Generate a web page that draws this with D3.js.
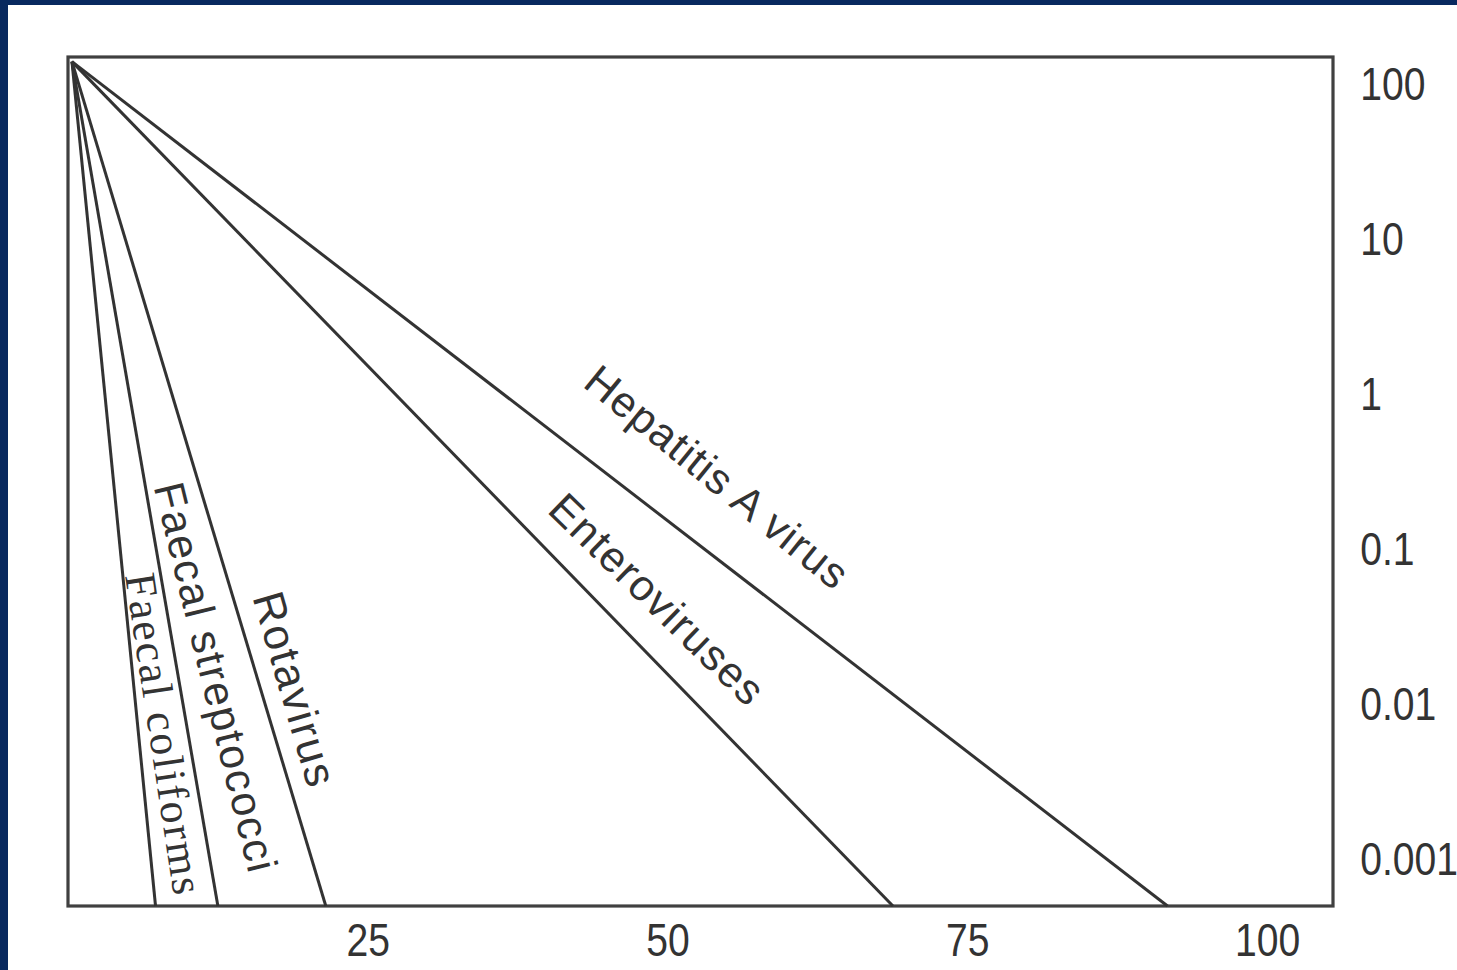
<!DOCTYPE html>
<html>
<head>
<meta charset="utf-8">
<script src="https://cdn.jsdelivr.net/npm/d3@7"></script>
<style>
  html, body { margin: 0; padding: 0; background: #ffffff; }
  svg { display: block; }
</style>
</head>
<body>
<svg id="chart" width="1457" height="970"></svg>
<script>
// ---- data ----
const organisms = ["Faecal coliforms", "Faecal streptococci", "Rotavirus", "Enteroviruses", "Hepatitis A virus"];
const startDay = 0.33;          // all curves start together at the top-left corner
const startLevel = 140;
const endDays = [7.3, 12.5, 21.5, 68.8, 91.7];   // day at which each line reaches the bottom of the frame
const endLevel = 0.0005;
const xTickValues = [25, 50, 75, 100];
const yTickValues = [100, 10, 1, 0.1, 0.01, 0.001];

(function () {
// ---- layout ----
const W = 1457, H = 970;
const mLeft = 68, mRight = 1333, mTop = 57, mBottom = 906;

const svg = d3.select("#chart");

// navy frame bands of the slide
svg.append("rect").attr("x", 0).attr("y", 0).attr("width", W).attr("height", H).attr("fill", "#ffffff");
svg.append("rect").attr("x", 0).attr("y", 0).attr("width", W).attr("height", 5).attr("fill", "#08295f");
svg.append("rect").attr("x", 0).attr("y", 0).attr("width", 8).attr("height", H).attr("fill", "#08295f");

const x = d3.scaleLinear().domain([0, 105.5]).range([mLeft, mRight]);
const y = d3.scaleLog().domain([150, 0.0005]).range([mTop, mBottom]);

// frame
svg.append("rect")
  .attr("x", x(0)).attr("y", y(150))
  .attr("width", x(105.5) - x(0)).attr("height", y(0.0005) - y(150))
  .attr("fill", "none").attr("stroke", "#404040").attr("stroke-width", 3.2);

// axes
const axisFont = "'Liberation Sans', Arial, Helvetica, sans-serif";
const yAxis = d3.axisRight(y).tickValues(yTickValues).tickSize(0).tickPadding(32).tickFormat(d3.format("~g"));
const gy = svg.append("g").attr("transform", `translate(${mRight},0)`).call(yAxis);
gy.select(".domain").remove();
gy.selectAll("text")
  .attr("font-family", axisFont).attr("font-size", 46).attr("fill", "#333333")
  .attr("transform", "scale(0.85,1)");

const xAxis = d3.axisBottom(x).tickValues(xTickValues).tickSize(0).tickPadding(17).tickFormat(d3.format("d"));
const gx = svg.append("g").attr("transform", `translate(0,${mBottom})`).call(xAxis);
gx.select(".domain").remove();
gx.selectAll("text")
  .attr("font-family", axisFont).attr("font-size", 46).attr("fill", "#333333")
  .attr("transform", "scale(0.85,1)");

// lines
const series = organisms.map((name, i) => ({
  name,
  points: [{ day: startDay, level: startLevel }, { day: endDays[i], level: endLevel }]
}));

const line = d3.line().x(d => x(d.day)).y(d => y(d.level));

svg.append("g").selectAll("path").data(series).join("path")
  .attr("d", d => line(d.points))
  .attr("fill", "none").attr("stroke", "#333333").attr("stroke-width", 3);

// labels placed along each line: t = fraction along line, off = perpendicular offset, rot = extra tilt
const labelPlace = [
  { t: 0.80, off: 26, rot: -3, font: "'Liberation Serif', 'Times New Roman', serif", spacing: 2, size: 44 },
  { t: 0.737, off: 37, rot: -4, font: axisFont, spacing: 1.6, size: 43 },
  { t: 0.755, off: 33, rot: 0.5, font: axisFont, spacing: 1.8, size: 44 },
  { t: 0.674, off: 45, rot: -1.5, font: axisFont, spacing: 1.5, size: 43 },
  { t: 0.553, off: 65, rot: 1.5, font: axisFont, spacing: 1.2, size: 43 }
];

svg.append("g").selectAll("text").data(series).join("text")
  .each(function (d, i) {
    const p0 = d.points[0], p1 = d.points[1];
    const x0 = x(p0.day), y0 = y(p0.level), x1 = x(p1.day), y1 = y(p1.level);
    const th = Math.atan2(y1 - y0, x1 - x0);
    const L = labelPlace[i];
    const px = x0 + L.t * (x1 - x0), py = y0 + L.t * (y1 - y0);
    const cx = px + L.off * Math.sin(th), cy = py - L.off * Math.cos(th);
    d3.select(this)
      .attr("transform", `translate(${cx},${cy}) rotate(${th * 180 / Math.PI + L.rot})`)
      .attr("text-anchor", "middle").attr("dy", "0.35em")
      .attr("font-family", L.font).attr("font-size", L.size)
      .attr("letter-spacing", L.spacing)
      .attr("fill", "#333333")
      .text(d.name);
  });
})();
</script>
</body>
</html>
